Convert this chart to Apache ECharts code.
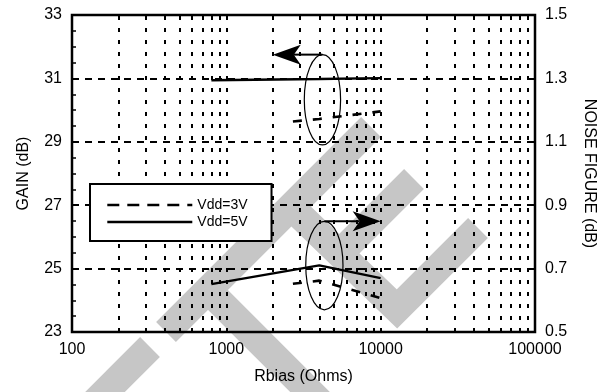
<!DOCTYPE html>
<html><head><meta charset="utf-8">
<script src="https://cdn.jsdelivr.net/npm/echarts@6/dist/echarts.min.js"></script>
<style>html,body{margin:0;padding:0;background:#fff}#c{width:605px;height:392px}</style>
</head><body><div id="c"></div>
<script>
// ---- data ----
const xTickLabels = [100, 1000, 10000, 100000];
const gainTickLabels = [23, 25, 27, 29, 31, 33];
const nfTickLabels = [0.5, 0.7, 0.9, 1.1, 1.3, 1.5];
const seriesNames = ['Vdd=3V', 'Vdd=5V'];

const rbias5V = [800, 4000, 10000];
const gain5V = [30.94, 30.98, 31.01];
const nf5V = [0.651, 0.710, 0.670];

const rbias3V = [2700, 4000, 10000];
const gain3V = [29.64, 29.72, 29.96];
const nf3V = [0.652, 0.662, 0.607];

// grid lines (values on the axes)
const minorGridX = [200,300,400,500,600,700,800,900,1000,2000,3000,4000,5000,6000,7000,8000,9000,10000,20000,30000,40000,50000,60000,70000,80000,90000];
const gainGridY = [25, 27, 29, 31];

// annotations (data coordinates)
const gainEllipseX = [3200, 5500], gainEllipseY = [28.9, 31.75];
const gainArrowTipX = 2000;
const nfEllipseX = [3270, 5700], nfEllipseY = [0.570, 0.849];
const nfArrowTipX = 10000;

const FONT = 'Liberation Sans, Arial, Helvetica, sans-serif';
const pairs = (xs, ys) => xs.map((x, i) => [x, ys[i]]);

const chart = echarts.init(document.getElementById('c'), null, {renderer: 'canvas'});

const lineBase = {type: 'line', symbol: 'none', animation: false, silent: true, color: '#000'};
const SOLID = {color: '#000', width: 2.4, type: 'solid'};
const DASH = {color: '#000', width: 2.6, type: [9, 11]};

const option = {
  animation: false,
  backgroundColor: '#fff',
  textStyle: {fontFamily: FONT},
  grid: {left: 72, right: 70, top: 15, bottom: 60, show: true, borderColor: '#000', borderWidth: 2.5, backgroundColor: 'transparent'},
  legend: {
    show: true, orient: 'vertical', left: 90, top: 184, selectedMode: false,
    data: [
      {name: seriesNames[0], lineStyle: {type: [12, 8], width: 2.6}},
      {name: seriesNames[1], lineStyle: {width: 2.6}}
    ],
    itemStyle: {color: 'rgba(0,0,0,0)', borderWidth: 0, opacity: 0},
    backgroundColor: '#fff', borderColor: '#000', borderWidth: 2, borderRadius: 0,
    padding: [14, 24, 12, 16], itemWidth: 85, itemHeight: 14, itemGap: 3,
    textStyle: {fontSize: 14, color: '#000', fontFamily: FONT}, z: 10
  },
  xAxis: {
    type: 'log', logBase: 10, min: xTickLabels[0], max: xTickLabels[xTickLabels.length - 1],
    axisLine: {show: false}, axisTick: {show: false}, splitLine: {show: false},
    axisLabel: {fontSize: 16, color: '#000', margin: 10, fontFamily: FONT,
      formatter: v => xTickLabels.includes(Math.round(v)) ? String(Math.round(v)) : ''},
    name: 'Rbias (Ohms)', nameLocation: 'middle', nameGap: 37,
    nameTextStyle: {fontSize: 16, color: '#000', fontFamily: FONT}
  },
  yAxis: [{
    type: 'value', min: 23, max: 33, interval: 0.5,
    axisLine: {show: false},
    axisTick: {show: true, inside: true, length: 4, lineStyle: {color: '#000', width: 1.5}},
    splitLine: {show: false},
    axisLabel: {fontSize: 16, color: '#000', margin: 10, fontFamily: FONT,
      formatter: v => (Math.abs(v - Math.round(v)) < 1e-6 && gainTickLabels.includes(Math.round(v))) ? String(Math.round(v)) : ''},
    name: 'GAIN (dB)', nameLocation: 'middle', nameRotate: 90, nameGap: 40,
    nameTextStyle: {fontSize: 16, color: '#000', fontFamily: FONT}
  }, {
    type: 'value', min: 0.5, max: 1.5, interval: 0.1, position: 'right',
    axisLine: {show: false}, axisTick: {show: false}, splitLine: {show: false},
    axisLabel: {fontSize: 16, color: '#000', margin: 10, fontFamily: FONT,
      formatter: v => { const r = Math.round(v * 10) / 10; return nfTickLabels.includes(r) ? r.toFixed(1) : ''; }},
    name: 'NOISE FIGURE (dB)', nameLocation: 'middle', nameRotate: -90, nameGap: 46,
    nameTextStyle: {fontSize: 16, color: '#000', fontFamily: FONT}
  }],
  series: [
    Object.assign({}, lineBase, {
      name: seriesNames[1], yAxisIndex: 0, data: pairs(rbias5V, gain5V), z: 5,
      lineStyle: SOLID,
      markLine: {
        silent: true, symbol: ['none', 'none'], animation: false, label: {show: false},
        data: minorGridX.map(v => ({xAxis: v, lineStyle: {color: '#000', width: 2, type: [4, 8]}}))
          .concat(gainGridY.map(v => ({yAxis: v, lineStyle: {color: '#000', width: 2, type: [7, 6]}})))
      }
    }),
    Object.assign({}, lineBase, {
      name: seriesNames[0], yAxisIndex: 0, data: pairs(rbias3V, gain3V), z: 5,
      lineStyle: DASH
    }),
    Object.assign({}, lineBase, {
      name: seriesNames[1], yAxisIndex: 1, data: pairs(rbias5V, nf5V), z: 5,
      lineStyle: SOLID
    }),
    Object.assign({}, lineBase, {
      name: seriesNames[0], yAxisIndex: 1, data: pairs(rbias3V, nf3V), z: 5,
      lineStyle: DASH
    })
  ]
};
chart.setOption(option);

// ---- decoration: watermark (page-level) + ellipse/arrow annotations placed via axes ----
const GRAY = '#c6c6c6';
const wm = [
  [[92, 405], [150, 347]],
  [[166, 332], [371, 127]],
  [[205, 287], [325, 407]],
  [[284, 200], [397, 309], [478, 228]],
  [[414, 179], [347, 246]]
].map(pts => ({type: 'polyline', z: -10, silent: true, shape: {points: pts},
  style: {stroke: GRAY, lineWidth: 28, fill: null, lineJoin: 'miter', lineCap: 'butt'}}));

function px(yIdx, x, y) { return chart.convertToPixel({xAxisIndex: 0, yAxisIndex: yIdx}, [x, y]); }
function annot(yIdx, ex, ey, tipX, dir) {
  const a = px(yIdx, ex[0], ey[0]), b = px(yIdx, ex[1], ey[1]);
  const cx = (a[0] + b[0]) / 2, cy = (a[1] + b[1]) / 2;
  const rx = Math.abs(b[0] - a[0]) / 2, ry = Math.abs(b[1] - a[1]) / 2;
  const topY = Math.min(a[1], b[1]);
  const tip = px(yIdx, tipX, ey[1])[0];
  const L = 28, H = 10, N = 21;
  const back = tip - dir * L, notch = tip - dir * N;
  return [
    {type: 'ellipse', z: 20, silent: true, shape: {cx: cx, cy: cy, rx: rx, ry: ry}, style: {stroke: '#000', lineWidth: 1.2, fill: null}},
    {type: 'line', z: 20, silent: true, shape: {x1: cx, y1: topY, x2: notch, y2: topY}, style: {stroke: '#000', lineWidth: 2}},
    {type: 'polygon', z: 20, silent: true, shape: {points: [[tip, topY], [back, topY - H], [notch, topY], [back, topY + H]]}, style: {fill: '#000', stroke: null}}
  ];
}
const graphics = wm
  .concat(annot(0, gainEllipseX, gainEllipseY, gainArrowTipX, -1))
  .concat(annot(1, nfEllipseX, nfEllipseY, nfArrowTipX, 1));
chart.setOption({graphic: graphics});
</script>
</body></html>
